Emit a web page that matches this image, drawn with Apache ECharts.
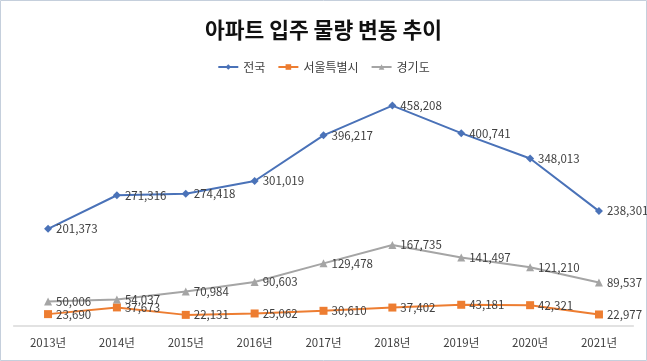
<!DOCTYPE html>
<html><head><meta charset="utf-8">
<script src="https://cdn.jsdelivr.net/npm/echarts@6/dist/echarts.min.js"></script>
<style>html,body{margin:0;padding:0;background:#fff}#c{width:647px;height:361px}</style>
</head><body><div id="c"></div>
<script>
var categories = ['2013년','2014년','2015년','2016년','2017년','2018년','2019년','2020년','2021년'];
var nationwide = [201373, 271316, 274418, 301019, 396217, 458208, 400741, 348013, 238301];
var seoul = [23690, 37673, 22131, 25062, 30610, 37402, 43181, 42321, 22977];
var gyeonggi = [50006, 54037, 70984, 90603, 129478, 167735, 141497, 121210, 89537];
var seriesNames = ['전국','서울특별시','경기도'];

var font = '"Noto Sans CJK KR", "Noto Sans", sans-serif';
function fmt(p){ return p.value.toLocaleString('en-US'); }
function mk(name, data, color, symbol, size){
  return {
    name: name, type: 'line', data: data, symbol: symbol, symbolSize: size,
    lineStyle: {color: color, width: 2}, itemStyle: {color: color},
    label: {show: true, position: 'right', distance: 4, formatter: fmt,
      color: '#404040', fontSize: 11.5, fontFamily: font},
    emphasis: {disabled: true}, animation: false
  };
}
var chart = echarts.init(document.getElementById('c'));
chart.setOption({
  backgroundColor: '#fff',
  animation: false,
  title: {text: '아파트 입주 물량 변동 추이', left: 'center', top: 14,
    textStyle: {fontFamily: font, fontSize: 21.5, fontWeight: 'bold', color: '#111'}},
  legend: {left: 'center', top: 56, itemWidth: 20, itemHeight: 7, itemGap: 12,
    textStyle: {fontFamily: font, fontSize: 12, color: '#404040'},
    data: seriesNames},
  grid: {left: 13.6, right: 13.6, top: 85.5, bottom: 35.5},
  xAxis: {type: 'category', data: categories, boundaryGap: true,
    axisLine: {lineStyle: {color: '#d9d9d9', width: 1.5}},
    axisTick: {show: false},
    axisLabel: {color: '#404040', fontSize: 11.5, fontFamily: font, margin: 11}},
  yAxis: {type: 'value', min: 0, max: 500000, show: false, splitLine: {show: false}},
  graphic: [{type: 'rect', shape: {x: 0.5, y: 0.5, width: 646, height: 360},
    style: {fill: 'none', stroke: '#c5cfdc', lineWidth: 1}, silent: true}],
  series: [
    mk(seriesNames[0], nationwide, '#4a72b8', 'diamond', 8),
    mk(seriesNames[1], seoul, '#ed7d31', 'rect', 8),
    mk(seriesNames[2], gyeonggi, '#a5a5a5', 'triangle', 8)
  ]
});
</script></body></html>
